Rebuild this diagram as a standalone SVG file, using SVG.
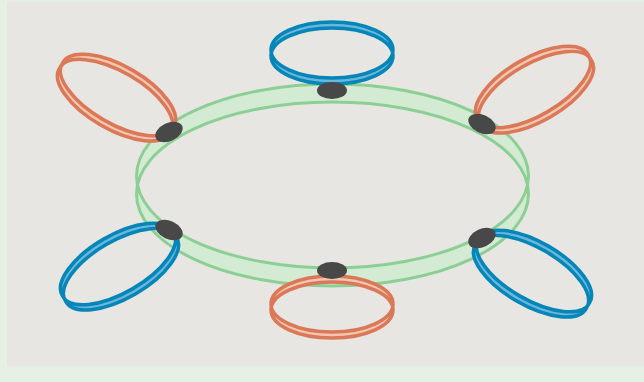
<svg xmlns="http://www.w3.org/2000/svg" width="644" height="382" viewBox="0 0 644 382">
  <style>
    .ring { fill: #d3ebd2; stroke: #8ccf95; stroke-width: 3; fill-rule: evenodd; }
    .orange { fill: #f2c7b2; stroke: #db7858; stroke-width: 3.5; fill-rule: evenodd; }
    .blue { fill: #69b7dc; stroke: #0686b8; stroke-width: 3.5; fill-rule: evenodd; }
    .node { fill: #484848; }
  </style>
  <rect x="0" y="0" width="644" height="382" fill="#e6f0e5"/>
  <rect x="7" y="2" width="637" height="364" fill="#e8e6e2"/>

  <g id="ring">
    <path class="ring" d="M136.5,176 A196 92 0 1 0 528.5,176 A196 92 0 1 0 136.5,176 Z M136.5,194 A196 92 0 1 0 528.5,194 A196 92 0 1 0 136.5,194 Z"/>
  </g>

  <g id="connectors">
    <path id="loop-top" class="blue" d="M393,50 A61 28 0 1 0 271,50 A61 28 0 1 0 393,50 Z M393,56 A61 28 0 1 0 271,56 A61 28 0 1 0 393,56 Z"/>
    <path id="loop-bottom" class="orange" d="M393,304 A61 28 0 1 0 271,304 A61 28 0 1 0 393,304 Z M393,310 A61 28 0 1 0 271,310 A61 28 0 1 0 393,310 Z"/>
    <path id="loop-top-left" class="orange" d="M173.4,127 A64 28 30 1 0 62.6,63 A64 28 30 1 0 173.4,127 Z M170.4,132.2 A64 28 30 1 0 59.6,68.2 A64 28 30 1 0 170.4,132.2 Z"/>
    <path id="loop-top-right" class="orange" d="M588.4,55 A64 28 -30 1 0 477.6,119 A64 28 -30 1 0 588.4,55 Z M591.4,60.2 A64 28 -30 1 0 480.6,124.2 A64 28 -30 1 0 591.4,60.2 Z"/>
    <path id="loop-bottom-left" class="blue" d="M173.4,232 A64 28 -30 1 0 62.6,296 A64 28 -30 1 0 173.4,232 Z M176.4,237.2 A64 28 -30 1 0 65.6,301.2 A64 28 -30 1 0 176.4,237.2 Z"/>
    <path id="loop-bottom-right" class="blue" d="M589.4,303 A64 28 30 1 0 478.6,239 A64 28 30 1 0 589.4,303 Z M586.4,308.2 A64 28 30 1 0 475.6,244.2 A64 28 30 1 0 586.4,308.2 Z"/>
  </g>

  <g id="node-top"><ellipse class="node" cx="332" cy="90.5" rx="15" ry="8.5"/></g>
  <g id="node-bottom"><ellipse class="node" cx="332" cy="270.5" rx="15" ry="8.5"/></g>
  <g id="node-top-left"><ellipse class="node" cx="169" cy="132" rx="14.5" ry="9" transform="rotate(-25 169 132)"/></g>
  <g id="node-top-right"><ellipse class="node" cx="482" cy="124" rx="14.5" ry="9" transform="rotate(25 482 124)"/></g>
  <g id="node-bottom-left"><ellipse class="node" cx="169" cy="230" rx="14.5" ry="9" transform="rotate(25 169 230)"/></g>
  <g id="node-bottom-right"><ellipse class="node" cx="482" cy="238" rx="14.5" ry="9" transform="rotate(-25 482 238)"/></g>
</svg>
